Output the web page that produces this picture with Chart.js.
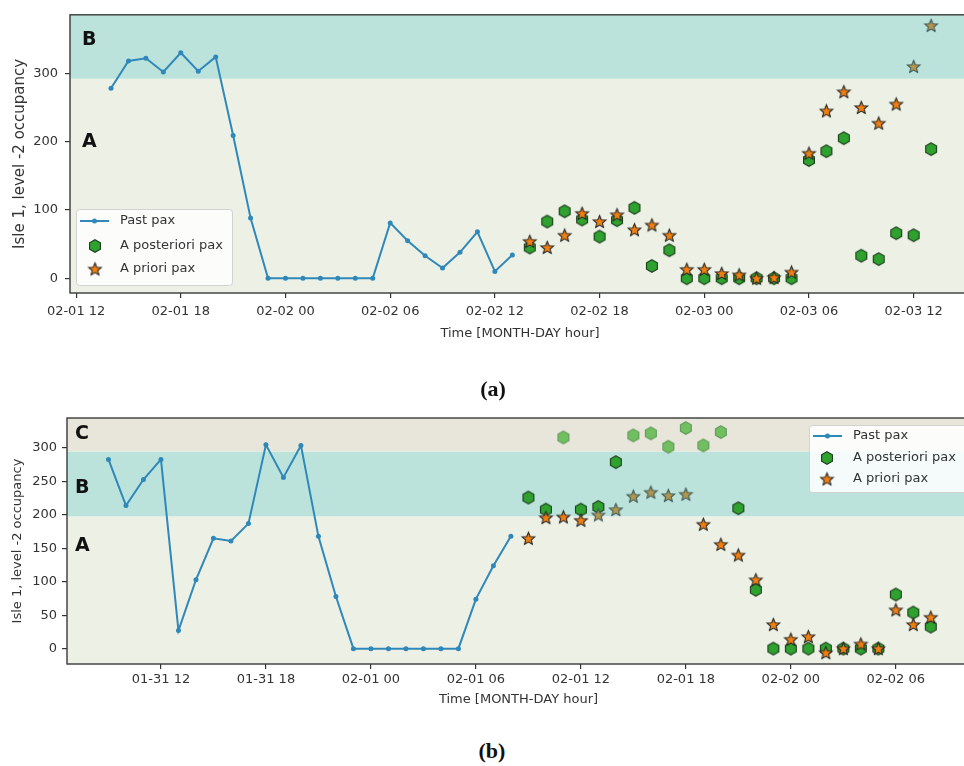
<!DOCTYPE html>
<html><head><meta charset="utf-8">
<script src="https://cdn.jsdelivr.net/npm/chart.js@4.4.1/dist/chart.umd.min.js"></script>
<style>
html,body{margin:0;padding:0;background:#fff;overflow:hidden;width:964px;height:766px}
#wrap{position:relative;width:964px;height:766px;overflow:hidden;background:#fff}
canvas{position:absolute;left:0}
#ca{top:0}
#cb{top:400px}
.sub{position:absolute;font-family:'Liberation Serif','DejaVu Serif',serif;font-weight:bold;font-size:22px;color:#111;width:80px;text-align:center;line-height:24px}
</style></head><body>
<div id="wrap">
<canvas id="ca" width="980" height="345"></canvas>
<canvas id="cb" width="980" height="311"></canvas>
<div class="sub" style="left:453px;top:377px">(a)</div>
<div class="sub" style="left:452px;top:739px">(b)</div>
</div>
<script>
// ---------------- DATA ----------------
const seriesNames = ['Past pax', 'A posteriori pax', 'A priori pax'];
const yTitle = 'Isle 1, level -2 occupancy';
const xTitle = 'Time [MONTH-DAY hour]';

// (a) — hours counted from 02-01 00:00
const aTickLabels = ['02-01 12','02-01 18','02-02 00','02-02 06','02-02 12','02-02 18','02-03 00','02-03 06','02-03 12'];
const aFirstTickHour = 12;
const aYTicks = [0, 100, 200, 300];
const aPastStartHour = 14;
const aPast = [278,318,322,302,330,303,324,209,88,0,0,0,0,0,0,0,81,55,33,15,38,68,10,34];
const aForecastStartHour = 38;
const aPosteriori = [45,83,98,86,61,85,103,18,41,0,0,0,0,0,0,0,173,186,205,33,28,66,63,189];
const aPriori = [54,45,63,95,83,93,71,78,63,13,13,7,5,0,1,9,183,245,273,250,227,255,310,370];
const aBandNames = ['A','B'];
const aBandLimits = [292];          // A below, B above

// (b) — hours counted from 01-31 00:00
const bTickLabels = ['01-31 12','01-31 18','02-01 00','02-01 06','02-01 12','02-01 18','02-02 00','02-02 06'];
const bFirstTickHour = 12;
const bYTicks = [0, 50, 100, 150, 200, 250, 300];
const bPastStartHour = 9;
const bPast = [283,214,253,283,27,103,165,161,187,305,256,304,168,78,0,0,0,0,0,0,0,74,124,168];
const bForecastStartHour = 33;
const bPosteriori = [226,208,316,208,212,279,319,322,302,330,304,324,210,88,0,0,0,0,0,0,0,81,54,33];
const bPriori = [165,196,197,192,200,208,228,234,229,231,186,156,140,103,36,14,18,-6,0,7,0,58,36,47];
const bBandNames = ['A','B','C'];
const bBandLimits = [198, 295];     // A | B | C

// ---------------- MARKERS ----------------
function hexImg(fill, stroke, r) {
  const s = Math.ceil(r * 2 + 3), c = document.createElement('canvas');
  c.width = s; c.height = s;
  const g = c.getContext('2d');
  g.beginPath();
  for (let k = 0; k < 6; k++) {
    const a = -Math.PI / 2 + k * Math.PI / 3;
    const px = s / 2 + r * Math.cos(a), py = s / 2 + r * Math.sin(a);
    k ? g.lineTo(px, py) : g.moveTo(px, py);
  }
  g.closePath(); g.fillStyle = fill; g.fill();
  g.lineWidth = 1.1; g.strokeStyle = stroke; g.stroke();
  return c;
}
function starImg(fill, stroke, r) {
  const s = Math.ceil(r * 2 + 3), c = document.createElement('canvas');
  c.width = s; c.height = s;
  const g = c.getContext('2d');
  g.beginPath();
  for (let k = 0; k < 10; k++) {
    const a = -Math.PI / 2 + k * Math.PI / 5, rr = k % 2 ? r * 0.45 : r;
    const px = s / 2 + rr * Math.cos(a), py = s / 2 + 0.6 + rr * Math.sin(a);
    k ? g.lineTo(px, py) : g.moveTo(px, py);
  }
  g.closePath(); g.fillStyle = fill; g.fill();
  g.lineWidth = 1.1; g.lineJoin = 'miter'; g.strokeStyle = stroke; g.stroke();
  return c;
}
const HEX = hexImg('#2ea12e', '#1d3d1d', 6.3);
const HEX_FADED = hexImg('#72bf62', '#5f9a5a', 6.3);
const STAR = starImg('#f07f10', '#262626', 6.6);
const STAR_FADED = starImg('#b29650', '#3e5957', 6.6);
const LINE_COLOR = '#2f88b9';
const TEXT = '#333333';

// ---------------- PLUGIN ----------------
const decor = {
  id: 'decor',
  beforeDatasetsDraw(chart, args, o) {
    const {ctx, chartArea: a, scales: {y}} = chart;
    ctx.save();
    ctx.beginPath(); ctx.rect(a.left, a.top, a.width, a.height); ctx.clip();
    const lims = o.limits;
    o.colors.forEach((col, i) => {
      const yBot = i === 0 ? a.bottom : y.getPixelForValue(lims[i - 1]);
      const yTop = i === lims.length ? a.top : y.getPixelForValue(lims[i]);
      ctx.fillStyle = col;
      ctx.fillRect(a.left, yTop, a.width, yBot - yTop);
    });
    ctx.restore();
  },
  afterDatasetsDraw(chart, args, o) {
    const {ctx, chartArea: a, scales: {y}} = chart;
    ctx.save();
    // zone letters
    ctx.font = 'bold 19px "DejaVu Sans", sans-serif';
    ctx.fillStyle = '#111'; ctx.textAlign = 'left'; ctx.textBaseline = 'middle';
    o.names.forEach((n, i) => ctx.fillText(n, a.left + o.letterDx, y.getPixelForValue(o.letterAt[i])));
    // legend
    const L = o.legend;
    ctx.beginPath();
    ctx.roundRect(L.x + 0.5, L.y + 0.5, L.w, L.h, 3);
    ctx.fillStyle = 'rgba(255,255,255,0.85)'; ctx.fill();
    ctx.strokeStyle = '#d2d2d2'; ctx.lineWidth = 1; ctx.stroke();
    ctx.font = '13px "DejaVu Sans", sans-serif'; ctx.fillStyle = TEXT;
    ctx.textBaseline = 'middle';
    L.rows.forEach((ry, i) => {
      if (i === 0) {
        ctx.strokeStyle = LINE_COLOR; ctx.lineWidth = 2;
        ctx.beginPath(); ctx.moveTo(L.lx0, ry); ctx.lineTo(L.lx1, ry); ctx.stroke();
        ctx.fillStyle = LINE_COLOR; ctx.beginPath(); ctx.arc((L.lx0 + L.lx1) / 2, ry, 2.5, 0, 7); ctx.fill();
      } else {
        const im = i === 1 ? HEX : STAR;
        ctx.drawImage(im, L.mx - im.width / 2, ry - im.height / 2);
      }
      ctx.fillStyle = TEXT;
      ctx.fillText(seriesNames[i], L.tx, ry);
    });
    ctx.restore();
  },
  afterDraw(chart) {
    const {ctx, chartArea: a} = chart;
    ctx.save();
    ctx.strokeStyle = '#3a3a3a'; ctx.lineWidth = 1.4;
    ctx.strokeRect(a.left, a.top, a.width, a.height);
    ctx.restore();
  }
};

// ---------------- BUILD ----------------
function pts(start, vals) { return vals.map((v, i) => ({x: start + i, y: v})); }

function build(id, s) {
  new Chart(document.getElementById(id), {
    type: 'scatter',
    data: {
      datasets: [
        {label: seriesNames[2], data: pts(s.fcStart, s.prior), order: 0,
         pointStyle: c => (c.raw && c.raw.y >= s.starFadeAbove) ? STAR_FADED : STAR, pointRadius: 6},
        {label: seriesNames[1], data: pts(s.fcStart, s.post), order: 1,
         pointStyle: c => (c.raw && c.raw.y >= s.hexFadeAbove) ? HEX_FADED : HEX, pointRadius: 6},
        {label: seriesNames[0], type: 'line', data: pts(s.pastStart, s.past), order: 2,
         borderColor: LINE_COLOR, borderWidth: 2, tension: 0, fill: false,
         pointRadius: 2.5, pointBackgroundColor: LINE_COLOR, pointBorderWidth: 0, pointStyle: 'circle'}
      ]
    },
    options: {
      responsive: false, devicePixelRatio: 1, animation: false, events: [],
      layout: {padding: {left: 0, top: s.padTop, right: 10, bottom: 0}},
      plugins: {
        legend: {display: false}, tooltip: {enabled: false},
        decor: {colors: s.bandColors, limits: s.limits, names: s.names, letterAt: s.letterAt,
                letterDx: s.letterDx, legend: s.legend}
      },
      scales: {
        x: {
          type: 'linear', min: s.xmin, max: s.xmax,
          afterBuildTicks: sc => { sc.ticks = s.tickLabels.map((_, i) => ({value: s.firstTick + 6 * i})); },
          afterFit: sc => { sc.height = s.xHeight; },
          ticks: {callback: (v, i) => s.tickLabels[i], autoSkip: false, maxRotation: 0,
                  font: {family: 'DejaVu Sans', size: 13}, color: TEXT, padding: s.xTickPad},
          grid: {drawOnChartArea: false, drawTicks: true, tickLength: 5, color: '#333', lineWidth: 1.2},
          border: {display: false},
          title: {display: true, text: xTitle, color: TEXT, font: {family: 'DejaVu Sans', size: 13},
                  padding: {top: 4, bottom: 4}}
        },
        y: {
          type: 'linear', min: s.ymin, max: s.ymax,
          afterBuildTicks: sc => { sc.ticks = s.yTicks.map(v => ({value: v})); },
          afterFit: sc => { sc.width = s.yWidth; },
          ticks: {font: {family: 'DejaVu Sans', size: 13}, color: TEXT, padding: s.yTickPad},
          grid: {drawOnChartArea: false, drawTicks: true, tickLength: 5, color: '#333', lineWidth: 1.2},
          border: {display: false},
          title: {display: true, text: yTitle, color: TEXT, font: {family: 'DejaVu Sans', size: s.yTitleSize},
                  padding: {top: s.yTitlePad, bottom: s.yTitlePad}}
        }
      }
    },
    plugins: [decor]
  });
}

build('ca', {
  pastStart: aPastStartHour, past: aPast, fcStart: aForecastStartHour, post: aPosteriori, prior: aPriori,
  tickLabels: aTickLabels, firstTick: aFirstTickHour, yTicks: aYTicks,
  xmin: 11.65, xmax: 63.23, ymin: -21.6, ymax: 385.6,
  padTop: 9, xHeight: 52, yWidth: 70, xTickPad: 6, yTickPad: 7, yTitleSize: 15, yTitlePad: 11,
  bandColors: ['#ecf0e5', '#bbe3dc'], limits: aBandLimits, names: aBandNames,
  letterAt: [200, 348], letterDx: 12,
  starFadeAbove: aBandLimits[0], hexFadeAbove: 1e9,
  legend: {x: 76, y: 209, w: 156, h: 76, rows: [221, 246, 269], lx0: 80, lx1: 109, mx: 95, tx: 120}
});

build('cb', {
  pastStart: bPastStartHour, past: bPast, fcStart: bForecastStartHour, post: bPosteriori, prior: bPriori,
  tickLabels: bTickLabels, firstTick: bFirstTickHour, yTicks: bYTicks,
  xmin: 6.63, xmax: 58.24, ymin: -23, ymax: 345,
  padTop: 18, xHeight: 47, yWidth: 67, xTickPad: 3, yTickPad: 5, yTitleSize: 13, yTitlePad: 10,
  bandColors: ['#ecf0e5', '#bbe3dc', '#e8e6da'], limits: bBandLimits, names: bBandNames,
  letterAt: [154, 240, 321], letterDx: 8,
  starFadeAbove: bBandLimits[0], hexFadeAbove: bBandLimits[1],
  legend: {x: 809, y: 25, w: 180, h: 67, rows: [36, 58, 79], lx0: 813, lx1: 842, mx: 827, tx: 853}
});
</script>
</body></html>
